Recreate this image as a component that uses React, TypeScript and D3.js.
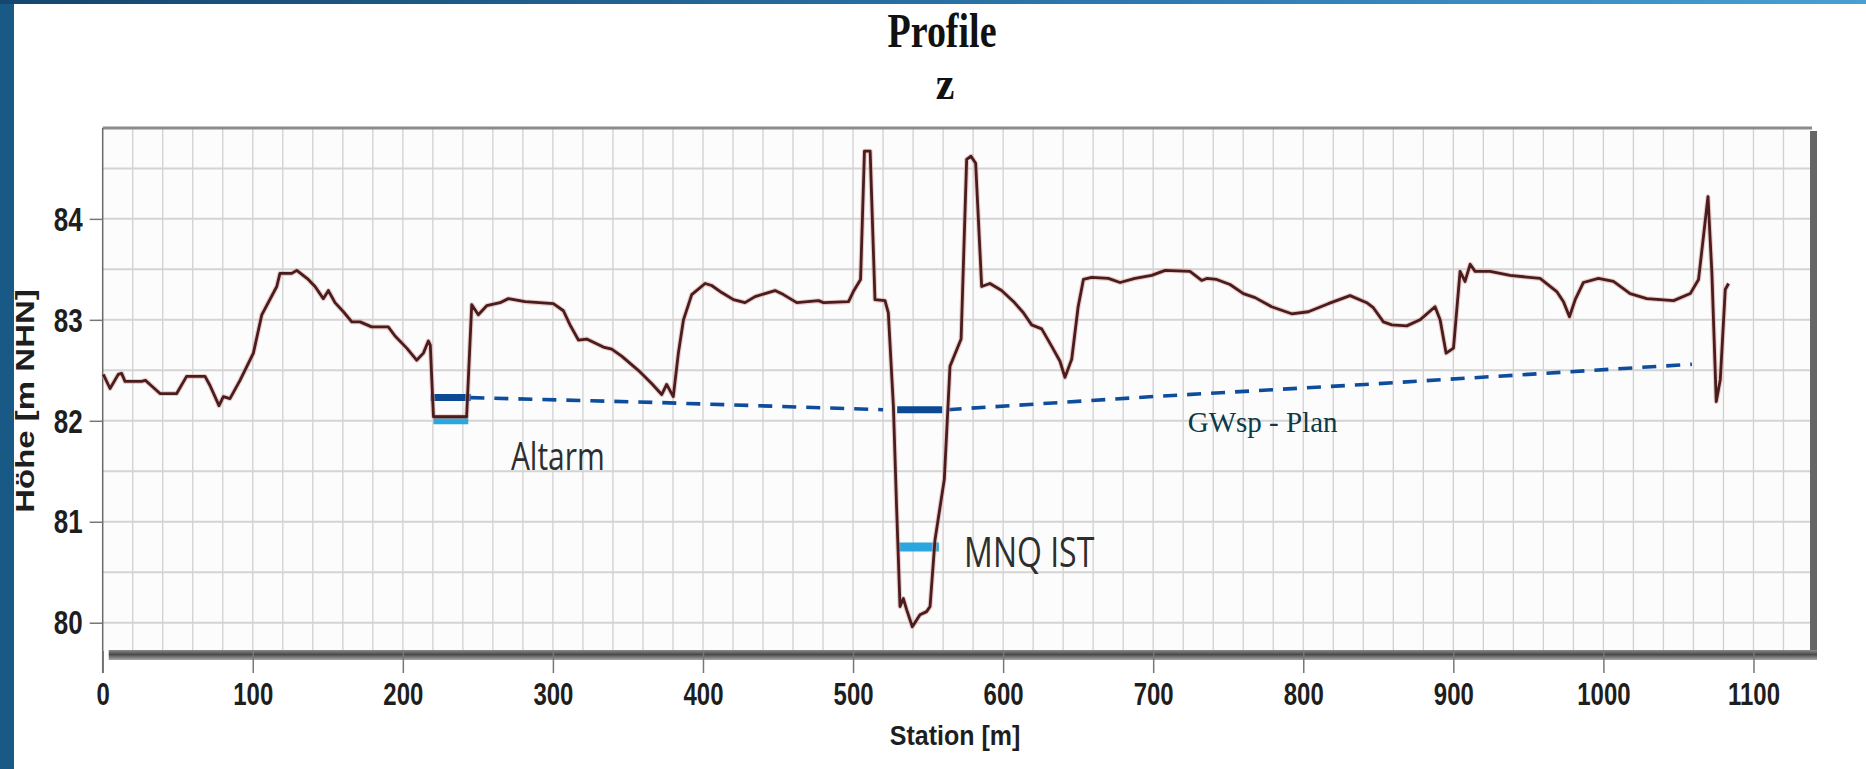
import React, { useEffect, useRef } from 'react';
import * as d3 from 'd3';

// profile z (station in m, height in m NHN)
const profileStation = [
  0.4, 4.9, 10.4, 12.6, 14.9, 25.9, 28.5, 31.5, 38.2, 49.3, 55.9, 68.2, 71.5, 77.5, 80.4, 84.8,
  91.5, 100.4, 106, 116, 118.1, 126, 129.3, 137, 141.5, 147, 150.4, 154.8, 160.4, 166, 171.5,
  179.2, 190.3, 194.8, 202.6, 209.2, 213.7, 217, 218.3, 220.4, 242.5, 245.9, 250.3, 255.9,
  264.8, 270.3, 281.4, 300.3, 307, 311.4, 317, 322.5, 333.6, 339.2, 345.8, 356.9, 365.8,
  372.5, 375.8, 380.2, 383.6, 387, 392.5, 401.4, 405.8, 412.5, 420.3, 428, 434.7, 448, 453.6,
  462.5, 477, 480.3, 497, 500.2, 505, 507.6, 511.4, 514.6, 521.3, 523.5, 526.9, 529, 531.3,
  533.5, 535.7, 539.5, 544.6, 549, 551.3, 554.6, 560.8, 564.6, 572, 575.7, 578.6, 581.7,
  585.7, 591.2, 599, 607, 613.5, 619, 625.7, 632.3, 637.9, 641.2, 645.7, 650, 653.5, 659,
  670.1, 677.9, 687.9, 699, 708, 724.5, 732.3, 735.7, 742.3, 751.2, 760.1, 767.9, 778.9,
  792.3, 803.4, 816.7, 831.2, 842.3, 846.7, 853.4, 859, 869, 877.8, 887.8, 891.2, 895.2,
  900.1, 904.5, 907.8, 911.2, 914.5, 924.5, 937.8, 957.8, 968.9, 973.4, 977.4, 981.2, 986.7,
  996.7, 1006.7, 1017.8, 1028.9, 1046.8, 1057.9, 1063.4, 1069.7, 1072.3, 1075.2, 1077.9,
  1081.2, 1083.4,
];
const profileHeight = [
  82.46, 82.32, 82.46, 82.47, 82.39, 82.39, 82.4, 82.36, 82.27, 82.27, 82.44, 82.44, 82.35,
  82.15, 82.24, 82.22, 82.4, 82.67, 83.05, 83.33, 83.46, 83.46, 83.49, 83.4, 83.33, 83.21,
  83.29, 83.17, 83.08, 82.98, 82.98, 82.93, 82.93, 82.84, 82.72, 82.6, 82.67, 82.79, 82.75,
  82.04, 82.04, 83.15, 83.05, 83.14, 83.17, 83.21, 83.18, 83.16, 83.09, 82.95, 82.8, 82.81,
  82.73, 82.71, 82.64, 82.5, 82.37, 82.26, 82.36, 82.24, 82.67, 83.0, 83.25, 83.36, 83.34,
  83.27, 83.2, 83.17, 83.23, 83.29, 83.25, 83.17, 83.19, 83.17, 83.18, 83.28, 83.4, 84.67,
  84.67, 83.2, 83.19, 83.07, 82.14, 81.15, 80.16, 80.24, 80.13, 79.96, 80.08, 80.11, 80.16,
  80.82, 81.42, 82.54, 82.81, 84.59, 84.62, 84.55, 83.33, 83.36, 83.29, 83.18, 83.07, 82.95,
  82.91, 82.74, 82.59, 82.43, 82.61, 83.13, 83.4, 83.42, 83.41, 83.37, 83.41, 83.44, 83.49,
  83.48, 83.39, 83.41, 83.4, 83.35, 83.26, 83.22, 83.13, 83.06, 83.08, 83.16, 83.24, 83.17,
  83.12, 82.98, 82.95, 82.94, 83.0, 83.13, 83.0, 82.67, 82.72, 83.48, 83.38, 83.55, 83.48,
  83.48, 83.44, 83.41, 83.28, 83.18, 83.03, 83.2, 83.37, 83.41, 83.38, 83.26, 83.21, 83.19,
  83.26, 83.4, 84.22, 83.46, 82.19, 82.41, 83.3, 83.36,
];

// GWsp - Plan (dashed), NaN breaks the line at the river
const gwPlanStation = [245, 372, 520, 540, 563, 700, 841, 1059];
const gwPlanHeight = [82.23, 82.18, 82.11, NaN, 82.11, 82.24, 82.36, 82.56];

// short water level bars
const levelKind = ['plan', 'ist', 'plan', 'ist'];
const levelFrom = [218.5, 220.4, 529.4, 529.4];
const levelTo = [245.2, 243.6, 559.4, 557.2];
const levelHeight = [82.23, 82.01, 82.11, 80.75];

// annotations
const noteText = ['Altarm', 'MNQ IST', 'GWsp - Plan'];
const noteStation = [272, 574, 723];
const noteHeight = [81.51, 80.55, 81.89];

const xTicks = [0, 100, 200, 300, 400, 500, 600, 700, 800, 900, 1000, 1100];
const yTicks = [80, 81, 82, 83, 84];

const W = 1866;
const H = 769;
const plot = { left: 102.7, top: 128, right: 1812, bottom: 651 };

const ProfileChart = () => {
  const svgRef = useRef(null);

  useEffect(() => {
    const svg = d3.select(svgRef.current);
    svg.selectAll('*').remove();

    const x = d3.scaleLinear().domain([0, 1139]).range([plot.left, plot.right]);
    const y = d3.scaleLinear().domain([79.72, 84.9]).range([plot.bottom, plot.top]);

    const defs = svg.append('defs');
    const topGrad = defs.append('linearGradient').attr('id', 'topbar');
    topGrad.append('stop').attr('offset', '0%').attr('stop-color', '#15466e');
    topGrad.append('stop').attr('offset', '60%').attr('stop-color', '#2c78ad');
    topGrad.append('stop').attr('offset', '100%').attr('stop-color', '#4a9fd0');
    const shadowGrad = defs.append('linearGradient').attr('id', 'shadow')
      .attr('x1', 0).attr('y1', 0).attr('x2', 0).attr('y2', 1);
    shadowGrad.append('stop').attr('offset', '0%').attr('stop-color', '#8a8a8a');
    shadowGrad.append('stop').attr('offset', '45%').attr('stop-color', '#4a4a4a');
    shadowGrad.append('stop').attr('offset', '100%').attr('stop-color', '#a8a8a8');

    svg.append('rect').attr('width', W).attr('height', H).attr('fill', '#fff');
    svg.append('rect').attr('x', 0).attr('y', 0).attr('width', 14).attr('height', H).attr('fill', '#195986');
    svg.append('rect').attr('x', 0).attr('y', 0).attr('width', W).attr('height', 4).attr('fill', 'url(#topbar)');

    // plot area
    svg.append('rect')
      .attr('x', plot.left).attr('y', plot.top)
      .attr('width', plot.right - plot.left).attr('height', plot.bottom - plot.top)
      .attr('fill', '#fcfcfc');

    const grid = svg.append('g');
    grid.selectAll('.vg')
      .data(d3.range(20, 1121, 20))
      .enter()
      .append('line')
      .attr('x1', d => x(d)).attr('x2', d => x(d))
      .attr('y1', plot.top).attr('y2', plot.bottom)
      .attr('stroke', '#d0d0d0')
      .attr('stroke-width', 1.3);
    grid.selectAll('.hg')
      .data(d3.range(80, 84.51, 0.5))
      .enter()
      .append('line')
      .attr('x1', plot.left).attr('x2', plot.right)
      .attr('y1', d => y(d)).attr('y2', d => y(d))
      .attr('stroke', '#d4d4d4')
      .attr('stroke-width', 2);

    // frame with 3d shadow
    svg.append('rect')
      .attr('x', plot.right - 2).attr('y', plot.top + 3)
      .attr('width', 7).attr('height', plot.bottom - plot.top + 6)
      .attr('fill', '#666');
    svg.append('rect')
      .attr('x', plot.left + 6).attr('y', plot.bottom - 1)
      .attr('width', plot.right - plot.left - 1).attr('height', 10)
      .attr('fill', 'url(#shadow)');
    svg.append('line')
      .attr('x1', plot.left).attr('x2', plot.right)
      .attr('y1', plot.top).attr('y2', plot.top)
      .attr('stroke', '#8c8c8c').attr('stroke-width', 3);
    svg.append('line')
      .attr('x1', plot.left).attr('x2', plot.left)
      .attr('y1', plot.top).attr('y2', plot.bottom + 22)
      .attr('stroke', '#6a6a6a').attr('stroke-width', 1.5);

    // axes
    const xAxis = svg.append('g')
      .attr('transform', `translate(0, ${plot.bottom})`)
      .call(d3.axisBottom(x).tickValues(xTicks).tickSize(22).tickSizeOuter(0).tickFormat(d3.format('d')));
    xAxis.select('.domain').remove();
    xAxis.selectAll('line').attr('stroke', '#777').attr('stroke-width', 1.5);
    xAxis.selectAll('text')
      .attr('y', 54 / 1.3)
      .attr('dy', 0)
      .attr('transform', 'scale(1,1.3)')
      .style('font-family', '"Liberation Sans", Arial, sans-serif')
      .style('font-weight', 'bold')
      .style('font-size', '24px')
      .style('fill', '#1e1e1e');

    const yAxis = svg.append('g')
      .attr('transform', `translate(${plot.left}, 0)`)
      .call(d3.axisLeft(y).tickValues(yTicks).tickSize(13).tickPadding(7).tickSizeOuter(0).tickFormat(d3.format('d')));
    yAxis.select('.domain').remove();
    yAxis.selectAll('line').attr('stroke', '#777').attr('stroke-width', 1.5);
    yAxis.selectAll('text')
      .attr('dy', '0.34em')
      .attr('transform', 'scale(1,1.27)')
      .style('font-family', '"Liberation Sans", Arial, sans-serif')
      .style('font-weight', 'bold')
      .style('font-size', '26px')
      .style('fill', '#1e1e1e');

    // water levels
    const levelStyle = {
      plan: { color: '#0b4a93', width: 7 },
      ist: { color: '#2aa7df', width: 9 },
    };
    svg.selectAll('.level')
      .data(levelKind)
      .enter()
      .append('line')
      .attr('x1', (d, i) => x(levelFrom[i]))
      .attr('x2', (d, i) => x(levelTo[i]))
      .attr('y1', (d, i) => y(levelHeight[i]))
      .attr('y2', (d, i) => y(levelHeight[i]))
      .attr('stroke', d => levelStyle[d].color)
      .attr('stroke-width', d => levelStyle[d].width);

    // groundwater plan, dashed
    const gwLine = d3.line()
      .defined(i => !Number.isNaN(gwPlanHeight[i]))
      .x(i => x(gwPlanStation[i]))
      .y(i => y(gwPlanHeight[i]));
    svg.append('path')
      .attr('d', gwLine(d3.range(gwPlanStation.length)))
      .attr('fill', 'none')
      .attr('stroke', '#0d4d9c')
      .attr('stroke-width', 3.6)
      .attr('stroke-dasharray', '14 10');

    // profile line
    const profileLine = d3.line()
      .x(i => x(profileStation[i]))
      .y(i => y(profileHeight[i]));
    const idx = d3.range(profileStation.length);
    svg.append('path')
      .attr('d', profileLine(idx))
      .attr('fill', 'none')
      .attr('stroke', '#d8a3a3')
      .attr('stroke-opacity', 0.55)
      .attr('stroke-width', 5)
      .attr('stroke-linejoin', 'round');
    svg.append('path')
      .attr('d', profileLine(idx))
      .attr('fill', 'none')
      .attr('stroke', '#4a1c1c')
      .attr('stroke-width', 2.8)
      .attr('stroke-linejoin', 'round');

    // annotations
    const noteStyle = [
      { font: '"Open Sans", sans-serif', size: 30, sy: 1.27, fill: '#2e2e2e' },
      { font: '"Open Sans", sans-serif', size: 32, sy: 1.3, fill: '#2e2e2e' },
      { font: '"Liberation Serif", serif', size: 29, sy: 1, fill: '#0b3a4a' },
    ];
    noteText.forEach((t, i) => {
      svg.append('text')
        .attr('transform', `translate(${x(noteStation[i])}, ${y(noteHeight[i])}) scale(1,${noteStyle[i].sy})`)
        .style('font-family', noteStyle[i].font)
        .style('font-size', `${noteStyle[i].size}px`)
        .style('fill', noteStyle[i].fill)
        .text(t);
    });

    // titles
    svg.append('text')
      .attr('transform', 'translate(942, 47) scale(1,1.27)')
      .style('text-anchor', 'middle')
      .style('font-family', '"Liberation Serif", "Times New Roman", serif')
      .style('font-weight', 'bold')
      .style('font-size', '38px')
      .style('fill', '#111')
      .text('Profile');
    svg.append('text')
      .attr('transform', 'translate(945, 99) scale(1,1.1)')
      .style('text-anchor', 'middle')
      .style('font-family', '"Liberation Serif", "Times New Roman", serif')
      .style('font-weight', 'bold')
      .style('font-size', '42px')
      .style('fill', '#111')
      .text('z');
    svg.append('text')
      .attr('transform', 'translate(955, 745) scale(1,1.12)')
      .style('text-anchor', 'middle')
      .style('font-family', '"Liberation Sans", Arial, sans-serif')
      .style('font-weight', 'bold')
      .style('font-size', '25px')
      .style('fill', '#1e1e1e')
      .text('Station [m]');
    svg.append('text')
      .attr('transform', 'translate(34, 401) rotate(-90) scale(1.27,1)')
      .style('text-anchor', 'middle')
      .style('font-family', '"Liberation Sans", Arial, sans-serif')
      .style('font-weight', 'bold')
      .style('font-size', '26px')
      .style('fill', '#1e1e1e')
      .text('Höhe [m NHN]');
  }, []);

  return (
    <svg
      ref={svgRef}
      width={W}
      height={H}
      style={{ position: 'absolute', left: 0, top: 0, display: 'block' }}
    ></svg>
  );
};

export default function App() {
  return <ProfileChart />;
}
